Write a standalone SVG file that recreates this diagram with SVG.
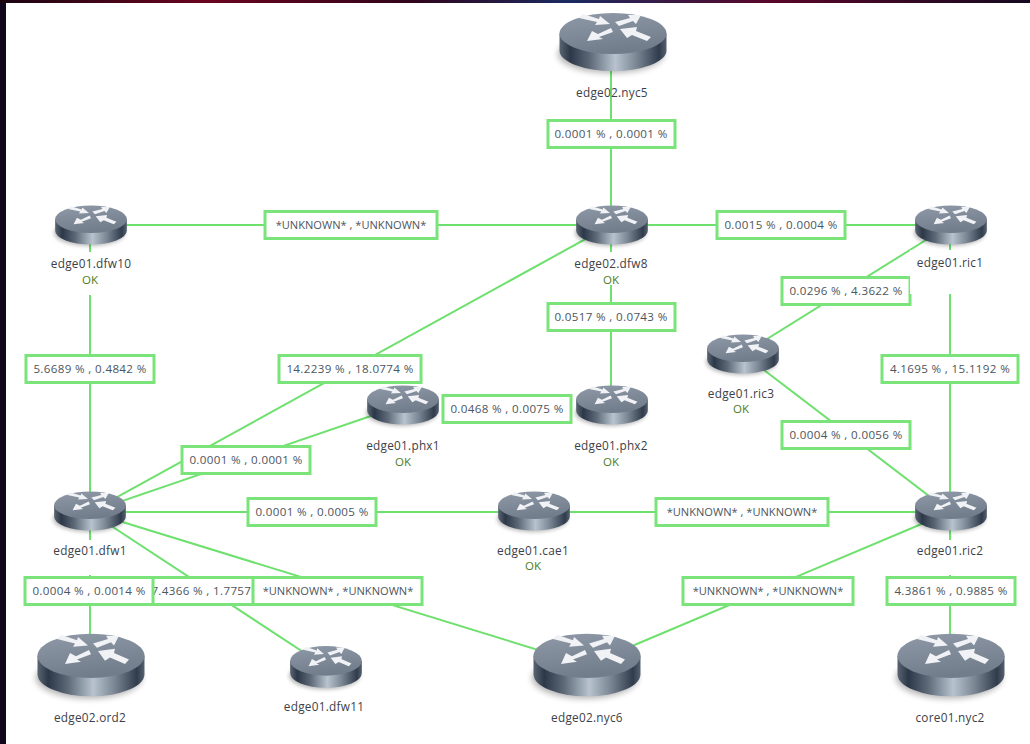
<svg xmlns="http://www.w3.org/2000/svg" width="1030" height="744" viewBox="0 0 1030 744">
<style>
.link{stroke:#6ee06e;stroke-width:2;fill:none}
.box{fill:#fff;stroke:#7ae47a;stroke-width:3}
.lt{font-family:"Open Sans","DejaVu Sans",sans-serif;font-size:11.6px;fill:#4d5560;text-anchor:middle;letter-spacing:.35px}
.lu{font-family:"Open Sans","DejaVu Sans",sans-serif;font-size:11.1px;fill:#4d5560;text-anchor:middle}
.nl{font-family:"Open Sans","DejaVu Sans",sans-serif;font-size:11.8px;fill:#3d4148;text-anchor:middle;letter-spacing:.25px}
.ok{font-family:"Open Sans","DejaVu Sans",sans-serif;font-size:11.5px;fill:#4c7d22;text-anchor:middle}
.bg{fill:#fff}
</style>
<defs>
<linearGradient id="bgTop" x1="0" x2="1" y1="0" y2="0">
<stop offset="0" stop-color="#1a0410"/><stop offset=".2" stop-color="#6b0420"/><stop offset=".4" stop-color="#30041a"/><stop offset=".55" stop-color="#1a2a60"/><stop offset=".75" stop-color="#5a0628"/><stop offset="1" stop-color="#140a20"/>
</linearGradient>
<linearGradient id="side" x1="0" x2="1" y1="0" y2="0">
<stop offset="0" stop-color="#5a6572"/><stop offset=".1" stop-color="#2c3848"/><stop offset=".28" stop-color="#5c6876"/><stop offset=".52" stop-color="#b8c3cf"/><stop offset=".72" stop-color="#7a8693"/><stop offset=".93" stop-color="#303c4c"/><stop offset="1" stop-color="#566170"/>
</linearGradient>
<linearGradient id="top" x1="0" x2="0.3" y1="0" y2="1">
<stop offset="0" stop-color="#8f99a7"/><stop offset="1" stop-color="#727d8b"/>
</linearGradient>
<filter id="soft" x="-20%" y="-40%" width="140%" height="180%"><feGaussianBlur stdDeviation="3"/></filter>
<g id="router">
<ellipse cx="-2" cy="12" rx="53" ry="19" fill="#000" opacity=".3" filter="url(#soft)"/>
<path d="M-53.5-8.5V8.5A53.5 20.5 0 0 0 53.5 8.5V-8.5Z" fill="url(#side)"/>
<ellipse cx="0" cy="-8.5" rx="53.5" ry="20.5" fill="url(#top)"/>
<g fill="#f0f2f5">
<polygon points="-30,-28 -14,-23 -13,-26 -3,-18 -18,-17 -16,-20 -34,-24"/>
<polygon points="2,-20 17,-24 15,-27 28,-27 23,-18 20,-21 6,-16"/>
<polygon points="-2,-14 -15,-8 -21,-11 -26,-1 -10,-3 -14,-5 0,-10"/>
<polygon points="7,-13 24,-15 23,-11 38,-5 34,-1 19,-7 14,-4"/>
</g>
</g>
</defs>
<rect width="1030" height="744" fill="#12061c"/>
<rect width="1030" height="3" fill="url(#bgTop)"/>
<rect x="6" y="3" width="1024" height="741" fill="#fff"/>
<g id="connectors">
<line class="link" x1="611" y1="42" x2="611" y2="225"/>
<line class="link" x1="91" y1="225" x2="611" y2="225"/>
<line class="link" x1="611" y1="225" x2="950" y2="225"/>
<line class="link" x1="90" y1="225" x2="90" y2="512"/>
<line class="link" x1="611" y1="225" x2="611" y2="405"/>
<line class="link" x1="611" y1="225" x2="90" y2="512"/>
<line class="link" x1="403" y1="405" x2="90" y2="512"/>
<line class="link" x1="90" y1="512" x2="534" y2="512"/>
<line class="link" x1="534" y1="512" x2="950" y2="512"/>
<line class="link" x1="950" y1="225" x2="743" y2="354"/>
<line class="link" x1="743" y1="354" x2="950" y2="512"/>
<line class="link" x1="950" y1="225" x2="950" y2="512"/>
<line class="link" x1="90" y1="512" x2="90" y2="665"/>
<line class="link" x1="90" y1="512" x2="326" y2="667"/>
<line class="link" x1="90" y1="512" x2="587" y2="665"/>
<line class="link" x1="587" y1="665" x2="950" y2="512"/>
<line class="link" x1="950" y1="512" x2="950" y2="665"/>
</g>
<g id="link-labels">
<g><rect class="box" x="548" y="120.500" width="127" height="27"/><text class="lt" x="611" y="138">0.0001 % , 0.0001 %</text></g>
<g><rect class="box" x="265" y="211.500" width="172" height="27"/><text class="lu" x="351" y="229">*UNKNOWN* , *UNKNOWN*</text></g>
<g><rect class="box" x="717" y="211.500" width="128" height="27"/><text class="lt" x="781" y="229">0.0015 % , 0.0004 %</text></g>
<g><rect class="box" x="782" y="277.500" width="128" height="27"/><text class="lt" x="846" y="295">0.0296 % , 4.3622 %</text></g>
<g><rect class="box" x="548" y="303.500" width="127" height="27"/><text class="lt" x="611" y="321">0.0517 % , 0.0743 %</text></g>
<g><rect class="box" x="26" y="355.500" width="128" height="27"/><text class="lt" x="90" y="373">5.6689 % , 0.4842 %</text></g>
<g><rect class="box" x="279" y="355.500" width="142" height="27"/><text class="lt" x="350" y="373">14.2239 % , 18.0774 %</text></g>
<g><rect class="box" x="882" y="355.500" width="136" height="27"/><text class="lt" x="950" y="373">4.1695 % , 15.1192 %</text></g>
<g><rect class="box" x="443" y="395.500" width="128" height="27"/><text class="lt" x="507" y="413">0.0468 % , 0.0075 %</text></g>
<g><rect class="box" x="782" y="421.500" width="128" height="27"/><text class="lt" x="846" y="439">0.0004 % , 0.0056 %</text></g>
<g><rect class="box" x="182" y="446.500" width="128" height="27"/><text class="lt" x="246" y="464">0.0001 % , 0.0001 %</text></g>
<g><rect class="box" x="248" y="498.500" width="128" height="27"/><text class="lt" x="312" y="516">0.0001 % , 0.0005 %</text></g>
<g><rect class="box" x="656" y="498.500" width="172" height="27"/><text class="lu" x="742" y="516">*UNKNOWN* , *UNKNOWN*</text></g>
<g><rect class="box" x="142" y="577.500" width="130" height="27"/><text class="lt" x="208" y="595">7.4366 % , 1.7757 %</text></g>
<g><rect class="box" x="25" y="577.500" width="128" height="27"/><text class="lt" x="89" y="595">0.0004 % , 0.0014 %</text></g>
<g><rect class="box" x="253" y="577.500" width="169" height="27"/><text class="lu" x="338" y="595">*UNKNOWN* , *UNKNOWN*</text></g>
<g><rect class="box" x="683" y="577.500" width="170" height="27"/><text class="lu" x="768" y="595">*UNKNOWN* , *UNKNOWN*</text></g>
<g><rect class="box" x="887" y="577.500" width="128" height="27"/><text class="lt" x="951" y="595">4.3861 % , 0.9885 %</text></g>
</g>
<g id="edge02.nyc5"><use href="#router" transform="translate(613,42)"/><text class="nl" x="612" y="97">edge02.nyc5</text></g>
<g id="edge01.dfw10"><rect class="bg" x="50" y="252" width="80" height="43"/><use href="#router" transform="translate(91,225) scale(.67)"/><text class="nl" x="91" y="268">edge01.dfw10</text><text class="ok" x="90" y="284">OK</text></g>
<g id="edge02.dfw8"><rect class="bg" x="570" y="252" width="84" height="33"/><use href="#router" transform="translate(612,225) scale(.67)"/><text class="nl" x="611" y="268">edge02.dfw8</text><text class="ok" x="611" y="284">OK</text></g>
<g id="edge01.ric1"><rect class="bg" x="910" y="250" width="80" height="44"/><use href="#router" transform="translate(951,225) scale(.67)"/><text class="nl" x="950" y="267">edge01.ric1</text></g>
<g id="edge01.ric3"><use href="#router" transform="translate(743,354) scale(.67)"/><text class="nl" x="741" y="398">edge01.ric3</text><text class="ok" x="741" y="413">OK</text></g>
<g id="edge01.phx1"><use href="#router" transform="translate(403,405) scale(.67)"/><text class="nl" x="403" y="450">edge01.phx1</text><text class="ok" x="403" y="466">OK</text></g>
<g id="edge01.phx2"><use href="#router" transform="translate(612,405) scale(.67)"/><text class="nl" x="611" y="450">edge01.phx2</text><text class="ok" x="611" y="466">OK</text></g>
<g id="edge01.dfw1"><rect class="bg" x="50" y="540" width="80" height="35"/><use href="#router" transform="translate(90,511) scale(.67)"/><text class="nl" x="90" y="555">edge01.dfw1</text></g>
<g id="edge01.cae1"><use href="#router" transform="translate(534,511) scale(.67)"/><text class="nl" x="533" y="555">edge01.cae1</text><text class="ok" x="533" y="570">OK</text></g>
<g id="edge01.ric2"><rect class="bg" x="910" y="540" width="80" height="35"/><use href="#router" transform="translate(951,511) scale(.67)"/><text class="nl" x="950" y="555">edge01.ric2</text></g>
<g id="edge02.ord2"><use href="#router" transform="translate(91,665) scale(1,1.08)"/><text class="nl" x="90" y="722">edge02.ord2</text></g>
<g id="edge01.dfw11"><use href="#router" transform="translate(326,667) scale(.67,.72)"/><text class="nl" x="324" y="711">edge01.dfw11</text></g>
<g id="edge02.nyc6"><use href="#router" transform="translate(587,665) scale(1,1.08)"/><text class="nl" x="587" y="722">edge02.nyc6</text></g>
<g id="core01.nyc2"><use href="#router" transform="translate(951,665) scale(1,1.08)"/><text class="nl" x="950" y="722">core01.nyc2</text></g>
</svg>
